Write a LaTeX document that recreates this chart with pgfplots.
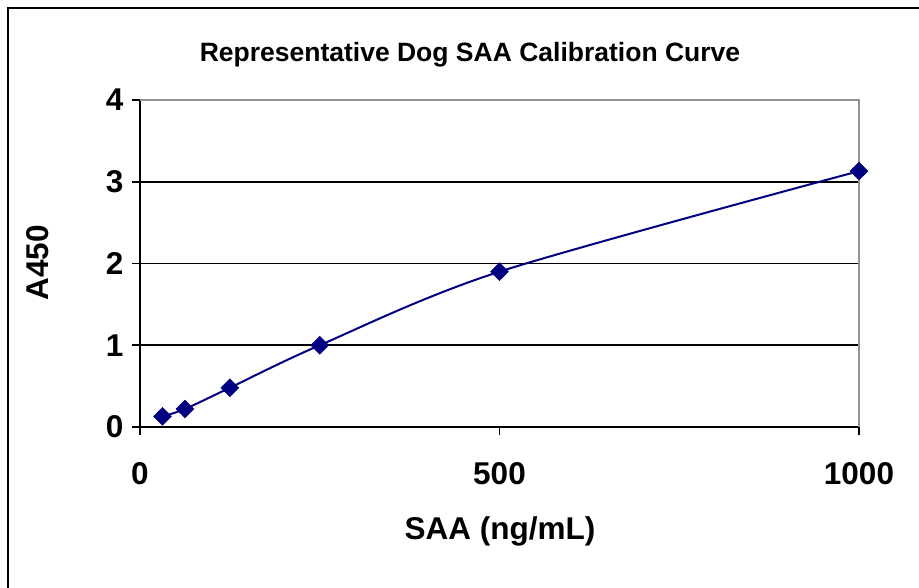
\documentclass[border=0pt]{standalone}
\usepackage{fontspec}
\setmainfont{Liberation Sans}
\usepackage{pgfplots}
\pgfplotsset{compat=1.18}
\definecolor{navy}{HTML}{000080}
\begin{document}
\begin{tikzpicture}[x=1pt,y=1pt]
\useasboundingbox (0,0) rectangle (919,588);
\draw[line width=2.2pt] (8,-10) -- (8,580) -- (930,580);
\begin{axis}[
  at={(140pt,161pt)}, anchor=south west,
  scale only axis, width=719pt, height=327pt,
  xmin=0, xmax=1000, ymin=0, ymax=4,
  xtick={0,500,1000}, ytick={0,1,2,3,4},
  axis x line*=bottom, axis y line*=left,
  axis line style={black, line width=1.6pt, -},
  ymajorgrids, grid style={black, line width=1.6pt},
  tick align=outside, major tick length=8pt,
  tick style={black, line width=1.6pt},
  ticklabel style={font=\bfseries\fontsize{31.5}{34}\selectfont},
  /pgf/number format/assume math mode=true,
  /pgf/number format/1000 sep={},
  xticklabel style={yshift=-24pt},
  yticklabel style={xshift=-5pt},
  clip=false,
]
\draw[gray!85, line width=1.6pt] (rel axis cs:0,1) -- (rel axis cs:1,1) -- (rel axis cs:1,0);
\addplot[navy, line width=2pt, smooth, tension=0.5, mark=square*, mark size=6.3pt, mark options={rotate=45, fill=navy, draw=navy, line width=0.5pt}]
  coordinates {(31.25,0.13) (62.5,0.22) (125,0.48) (250,1.00) (500,1.90) (1000,3.13)};
\end{axis}
\node[font=\bfseries\fontsize{26.5}{30}\selectfont] at (470,533) {Representative Dog SAA Calibration Curve};
\node[font=\bfseries\fontsize{31.5}{34}\selectfont] at (500,57) {SAA (ng/mL)};
\node[font=\bfseries\fontsize{31.5}{34}\selectfont, rotate=90] at (38,325) {A450};
\end{tikzpicture}
\end{document}
